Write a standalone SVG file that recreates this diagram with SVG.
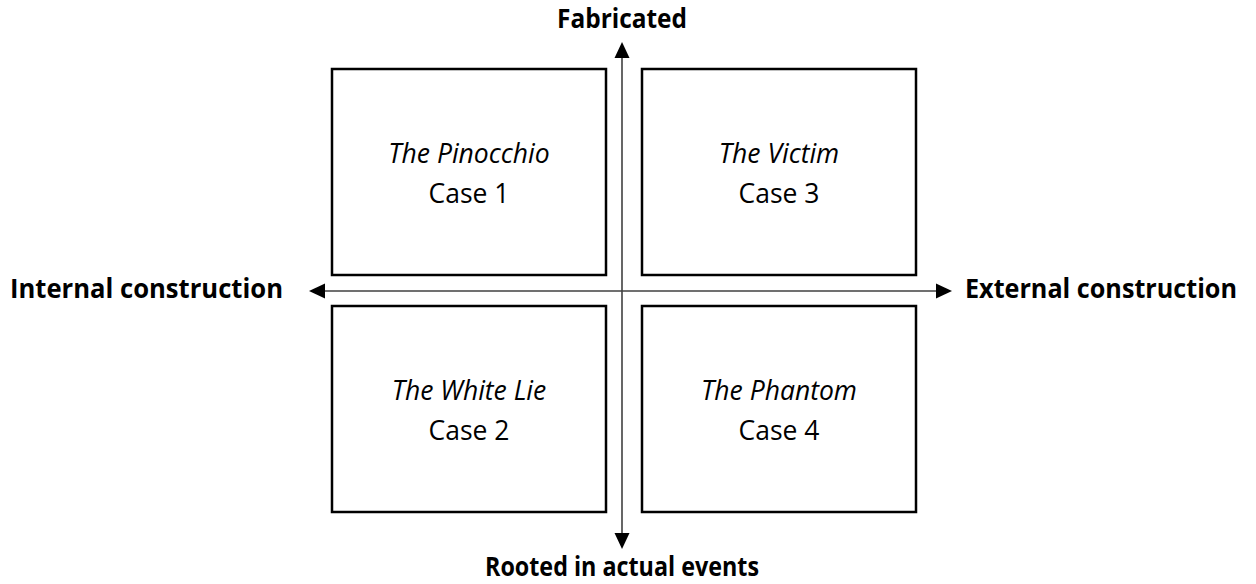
<svg xmlns="http://www.w3.org/2000/svg" width="1256" height="584" viewBox="0 0 1256 584">
<style>
.box{fill:#fff;stroke:#000;stroke-width:2.5}
.t{font-family:"Open Sans","Noto Sans",sans-serif;font-size:26.5px;fill:#000;text-anchor:middle}
.i{font-style:italic}
.b{font-family:"Open Sans","Noto Sans",sans-serif;font-size:26px;font-weight:bold;fill:#000}
.ax{stroke:#404040;stroke-width:1.6;fill:none}
.ah{fill:#000}
</style>
<rect width="1256" height="584" fill="#fff"/>
<g id="connectors">
<line class="ax" x1="622" y1="56" x2="622" y2="535"/>
<line class="ax" x1="323" y1="291" x2="937" y2="291"/>
<polygon class="ah" points="622,42 614.5,58 629.5,58"/>
<polygon class="ah" points="622,549 614.5,533 629.5,533"/>
<polygon class="ah" points="309,291 325,283.5 325,298.5"/>
<polygon class="ah" points="952,291 936,283.5 936,298.5"/>
</g>
<g id="case1">
<rect class="box" x="332" y="69" width="274" height="206"/>
<text class="t i" x="469" y="163">The Pinocchio</text>
<text class="t" x="469" y="203">Case 1</text>
</g>
<g id="case3">
<rect class="box" x="642" y="69" width="274" height="206"/>
<text class="t i" x="779" y="163">The Victim</text>
<text class="t" x="779" y="203">Case 3</text>
</g>
<g id="case2">
<rect class="box" x="332" y="306" width="274" height="206"/>
<text class="t i" x="469" y="400">The White Lie</text>
<text class="t" x="469" y="440">Case 2</text>
</g>
<g id="case4">
<rect class="box" x="642" y="306" width="274" height="206"/>
<text class="t i" x="779" y="400">The Phantom</text>
<text class="t" x="779" y="440">Case 4</text>
</g>
<g id="label-top"><text class="b" x="557" y="28" textLength="130" lengthAdjust="spacingAndGlyphs">Fabricated</text></g>
<g id="label-bottom"><text class="b" x="485" y="576" textLength="274" lengthAdjust="spacingAndGlyphs">Rooted in actual events</text></g>
<g id="label-left"><text class="b" x="10" y="298" textLength="273" lengthAdjust="spacingAndGlyphs">Internal construction</text></g>
<g id="label-right"><text class="b" x="965" y="298" textLength="272" lengthAdjust="spacingAndGlyphs">External construction</text></g>
</svg>
